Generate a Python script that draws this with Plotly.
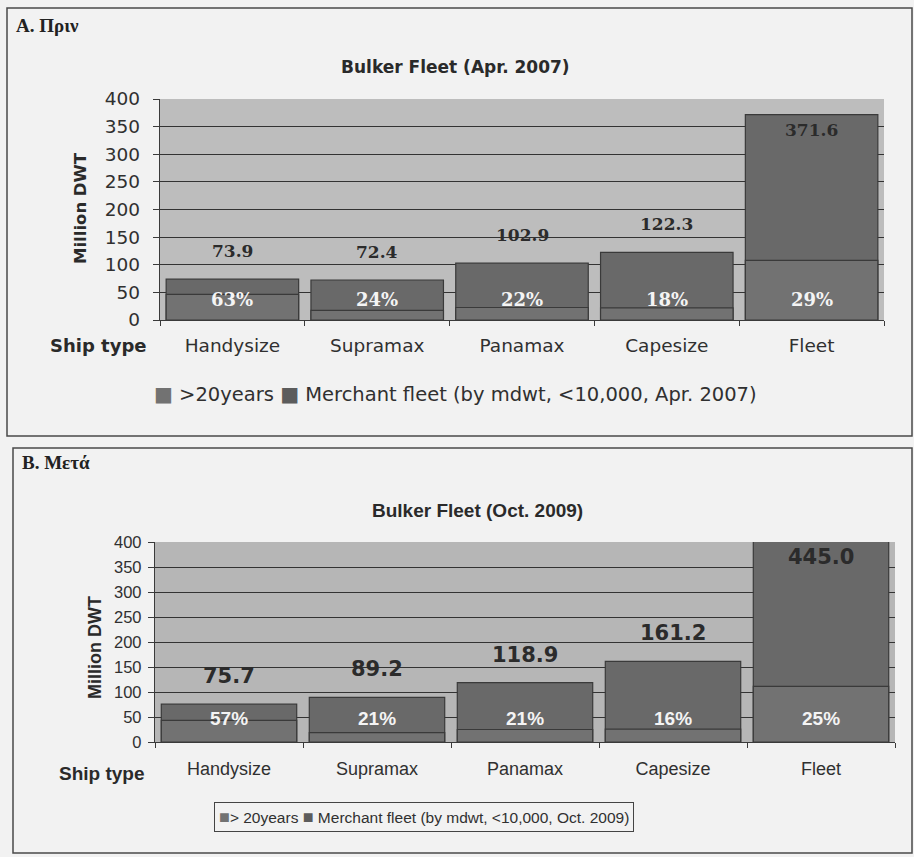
import plotly.graph_objects as go

# Bulker fleet by ship type, million DWT
ship_types = ["Handysize", "Supramax", "Panamax", "Capesize", "Fleet"]

fleet_2007 = [73.9, 72.4, 102.9, 122.3, 371.6]
old_share_2007 = [63, 24, 22, 18, 29]          # % of tonnage older than 20 years

fleet_2009 = [75.7, 89.2, 118.9, 161.2, 445.0]
old_share_2009 = [57, 21, 21, 16, 25]

y_ticks = [0, 50, 100, 150, 200, 250, 300, 350, 400]

W, H = 914, 857
PAGE = "#f2f2f2"
PLOT_BG = "#bdbdbd"
BAR_TOTAL = "#696969"
BAR_OLD = "#727272"
EDGE = "#3a3a3a"
INK = "#303030"


def px(x):
    return x / W


def py(y):
    return 1 - y / H


fig = go.Figure()

panels = [
    dict(
        total=fleet_2007, share=old_share_2007,
        xa="x", ya="y",
        total_name="Merchant fleet (by mdwt, <10,000, Apr. 2007)",
        value_font=dict(family="DejaVu Serif", size=17, color="#2b2b2b", weight="bold"),
        pct_font=dict(family="DejaVu Serif", size=18, color="#f4f4f4", weight="bold"),
        pct_lift=21, val_lift=28,
    ),
    dict(
        total=fleet_2009, share=old_share_2009,
        xa="x2", ya="y2",
        total_name="Merchant fleet (by mdwt, <10,000, Oct. 2009)",
        value_font=dict(family="DejaVu Sans", size=21, color="#2b2b2b", weight="bold"),
        pct_font=dict(family="Liberation Sans", size=19, color="#f4f4f4", weight="bold"),
        pct_lift=24, val_lift=28,
    ),
]

y_max = y_ticks[-1]

for p in panels:
    old = [t * s / 100 for t, s in zip(p["total"], p["share"])]
    # whole fleet first, the >20 years portion overlaid on it
    fig.add_trace(go.Bar(
        x=ship_types, y=p["total"], name=p["total_name"],
        marker=dict(color=BAR_TOTAL, line=dict(color=EDGE, width=1.2)),
        xaxis=p["xa"], yaxis=p["ya"], hoverinfo="skip",
    ))
    fig.add_trace(go.Bar(
        x=ship_types, y=old, name=">20years",
        marker=dict(color=BAR_OLD, line=dict(color=EDGE, width=1.2)),
        xaxis=p["xa"], yaxis=p["ya"], hoverinfo="skip",
    ))
    for cat, tot, sh in zip(ship_types, p["total"], p["share"]):
        inside = tot > 0.85 * y_max
        fig.add_annotation(
            x=cat, y=min(tot, y_max), xref=p["xa"], yref=p["ya"],
            text=f"{tot:.1f}", showarrow=False, font=p["value_font"],
            yanchor="middle", yshift=-15 if inside else p["val_lift"],
        )
        fig.add_annotation(
            x=cat, y=0, xref=p["xa"], yref=p["ya"],
            text=f"{sh}%", showarrow=False, font=p["pct_font"],
            yanchor="middle", yshift=p["pct_lift"],
        )

common_y = dict(
    range=[0, y_max], tickvals=y_ticks, showgrid=True, gridcolor="#333333",
    gridwidth=1.4, showline=True, linecolor=EDGE, linewidth=1.3,
    ticks="outside", ticklen=6, tickcolor=EDGE, zeroline=False, fixedrange=True,
)
common_x = dict(
    type="category", showline=True, linecolor=EDGE, linewidth=1.3,
    ticks="outside", ticklen=5, tickcolor=EDGE, tickson="boundaries",
    showgrid=False, fixedrange=True,
)

fig.update_layout(
    width=W, height=H,
    margin=dict(l=0, r=0, t=0, b=0, autoexpand=False),
    paper_bgcolor=PAGE,
    plot_bgcolor=PLOT_BG,
    barmode="overlay",
    bargap=0.085,
    showlegend=False,
    xaxis=dict(common_x, domain=[px(160), px(884)], anchor="y",
               tickfont=dict(family="DejaVu Sans", size=18.5, color=INK),
               ticklabelstandoff=9),
    yaxis=dict(common_y, domain=[py(320), py(99)], anchor="x",
               tickfont=dict(family="DejaVu Sans", size=18.5, color=INK),
               ticklabelstandoff=9),
    xaxis2=dict(common_x, domain=[px(155), px(895)], anchor="y2",
                tickfont=dict(family="Liberation Sans", size=18, color=INK),
                ticklabelstandoff=10),
    yaxis2=dict(common_y, domain=[py(742), py(542)], anchor="x2",
                tickfont=dict(family="Liberation Sans", size=16.5, color=INK),
                ticklabelstandoff=3),
)

# the lower panel's plot area is a touch darker
fig.add_shape(type="rect", xref="x2 domain", yref="y2 domain", x0=0, x1=1, y0=0, y1=1,
              fillcolor="#b6b6b6", line=dict(width=0), layer="below")

# panel frames
fig.add_shape(type="rect", xref="paper", yref="paper",
              x0=px(7), x1=px(912), y0=py(436), y1=py(8),
              line=dict(color="#4a4a4a", width=1.5), layer="below")
fig.add_shape(type="rect", xref="paper", yref="paper",
              x0=px(13), x1=px(912), y0=py(853), y1=py(448),
              line=dict(color="#4a4a4a", width=1.5), layer="below")


def swatch(color, size):
    return f"<span style='color:{color};font-size:{size}px'>■</span>"


# series keys: a swatch per series followed by its name
key_top = (f"{swatch(BAR_OLD, 20)} >20years {swatch('#5c5c5c', 20)} "
           f"{panels[0]['total_name']}")
key_bottom = (f"{swatch(BAR_OLD, 18)}> 20years {swatch('#5c5c5c', 18)} "
              f"{panels[1]['total_name']}")

fig.add_annotation(x=px(455), y=py(394), xref="paper", yref="paper", text=key_top,
                   showarrow=False, xanchor="center", yanchor="middle",
                   font=dict(family="DejaVu Sans", size=19.5, color=INK))
fig.add_annotation(x=px(424), y=py(817), xref="paper", yref="paper", text=key_bottom,
                   showarrow=False, xanchor="center", yanchor="middle",
                   bordercolor="#444444", borderwidth=1, borderpad=4, bgcolor=PAGE,
                   font=dict(family="Liberation Sans", size=15.5, color=INK))

texts = [
    dict(x=14, y=25, text="A. Πριν", xanchor="left",
         font=dict(family="Liberation Serif", size=19, color="#222222", weight="bold")),
    dict(x=20, y=463, text="B. Μετά", xanchor="left",
         font=dict(family="Liberation Serif", size=19, color="#222222", weight="bold")),
    dict(x=455, y=67, text="Bulker Fleet (Apr. 2007)", xanchor="center",
         font=dict(family="DejaVu Sans", size=17, color="#2a2a2a", weight="bold")),
    dict(x=477, y=510, text="Bulker Fleet (Oct. 2009)", xanchor="center",
         font=dict(family="Liberation Sans", size=19, color="#2a2a2a", weight="bold")),
    dict(x=98, y=345, text="Ship type", xanchor="center",
         font=dict(family="DejaVu Sans", size=18, color="#2a2a2a", weight="bold")),
    dict(x=102, y=773, text="Ship type", xanchor="center",
         font=dict(family="Liberation Sans", size=19, color="#2a2a2a", weight="bold")),
]
for t in texts:
    fig.add_annotation(x=px(t["x"]), y=py(t["y"]), xref="paper", yref="paper",
                       text=t["text"], showarrow=False, xanchor=t["xanchor"],
                       yanchor="middle", font=t["font"])

fig.add_annotation(x=px(80), y=py(208), xref="paper", yref="paper", text="Million DWT",
                   textangle=-90, showarrow=False, xanchor="center", yanchor="middle",
                   font=dict(family="DejaVu Sans", size=16.5, color="#2a2a2a", weight="bold"))
fig.add_annotation(x=px(95), y=py(648), xref="paper", yref="paper", text="Million DWT",
                   textangle=-90, showarrow=False, xanchor="center", yanchor="middle",
                   font=dict(family="Liberation Sans", size=18, color="#2a2a2a", weight="bold"))

fig.write_html("out.html")
